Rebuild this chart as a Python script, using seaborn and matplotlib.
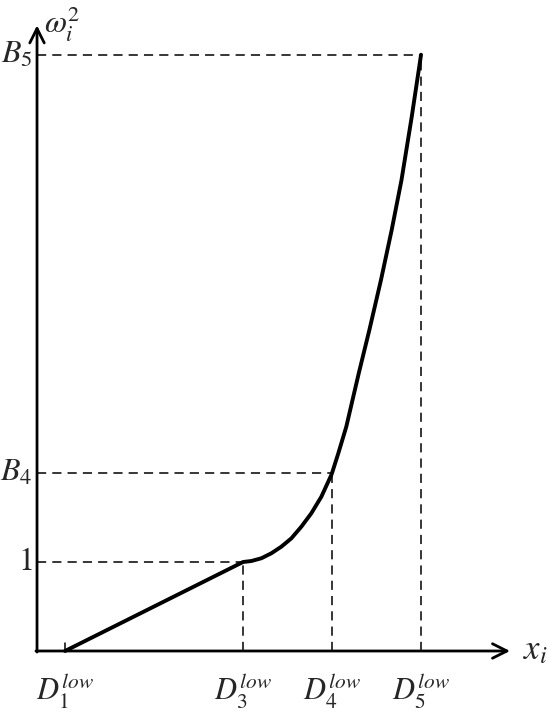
import matplotlib
matplotlib.use("Agg")
import matplotlib.pyplot as plt
import seaborn as sns
import pandas as pd

sns.set_style("white")
plt.rcParams["mathtext.fontset"] = "stix"
plt.rcParams["font.family"] = ["STIXGeneral", "DejaVu Serif"]

# knots on the x axis (D_k^low) and levels on the y axis
x_ticks = [1.0, 3.0, 4.0, 5.0]
x_labels = [r"$D_1^{low}$", r"$D_3^{low}$", r"$D_4^{low}$", r"$D_5^{low}$"]
y_levels = [1.0, 2.0, 6.7]
y_labels = [r"$1$", r"$B_4$", r"$B_5$"]

# weight curve
curve_x = [1.0, 3.0, 3.093, 3.206, 3.318, 3.430, 3.543, 3.655, 3.767, 3.880,
           3.992, 4.0, 4.07, 4.16, 4.30, 4.42, 4.55, 4.67, 4.78, 4.895, 5.0]
curve_y = [0.0, 1.0, 1.011, 1.042, 1.098, 1.172, 1.266, 1.397, 1.547, 1.734,
           1.978, 2.0, 2.22, 2.52, 3.12, 3.61, 4.17, 4.73, 5.29, 6.00, 6.70]

x0, y0 = 0.685, 0.0
x_end, y_end = 6.0, 7.03

fig = plt.figure(figsize=(5.5, 7.14), dpi=100)
ax = fig.add_axes([0, 0, 1, 1])
ax.set_xlim(0.269, 6.449)
ax.set_ylim(-0.708, 7.315)
ax.axis("off")

df = pd.DataFrame({"x": curve_x, "y": curve_y})
sns.lineplot(data=df, x="x", y="y", color="black", linewidth=2.8,
             sort=False, ax=ax, solid_capstyle="round", solid_joinstyle="round")

# axes with arrows
arrow = dict(arrowstyle="->", lw=2.0, color="black", mutation_scale=26,
             shrinkA=0, shrinkB=0)
ax.annotate("", xy=(x_end, y0), xytext=(x0 - 0.012, y0), arrowprops=arrow)
ax.annotate("", xy=(x0, y_end), xytext=(x0, y0 - 0.012), arrowprops=arrow)

# dashed guides
dash = dict(color="black", lw=1.1, linestyle=(0, (6, 4)))
for xt, yl in zip(x_ticks[1:], y_levels):
    ax.plot([x0, xt], [yl, yl], **dash)
    ax.plot([xt, xt], [y0, yl], **dash)

# small tick at D1
ax.plot([x_ticks[0], x_ticks[0]], [0, 0.09], color="black", lw=1.1)

for xt, lab in zip(x_ticks, x_labels):
    ax.text(xt, -0.22, lab, ha="center", va="top", fontsize=22)
for yl, lab in zip(y_levels, y_labels):
    ax.text(x0 - 0.05, yl, lab, ha="right", va="center", fontsize=23)

ax.text(x0 + 0.08, 7.05, r"$\omega_i^2$", ha="left", va="center", fontsize=23)
ax.text(x_end + 0.15, 0.0, r"$x_i$", ha="left", va="center", fontsize=25)

fig.savefig("out.png", dpi=100)
